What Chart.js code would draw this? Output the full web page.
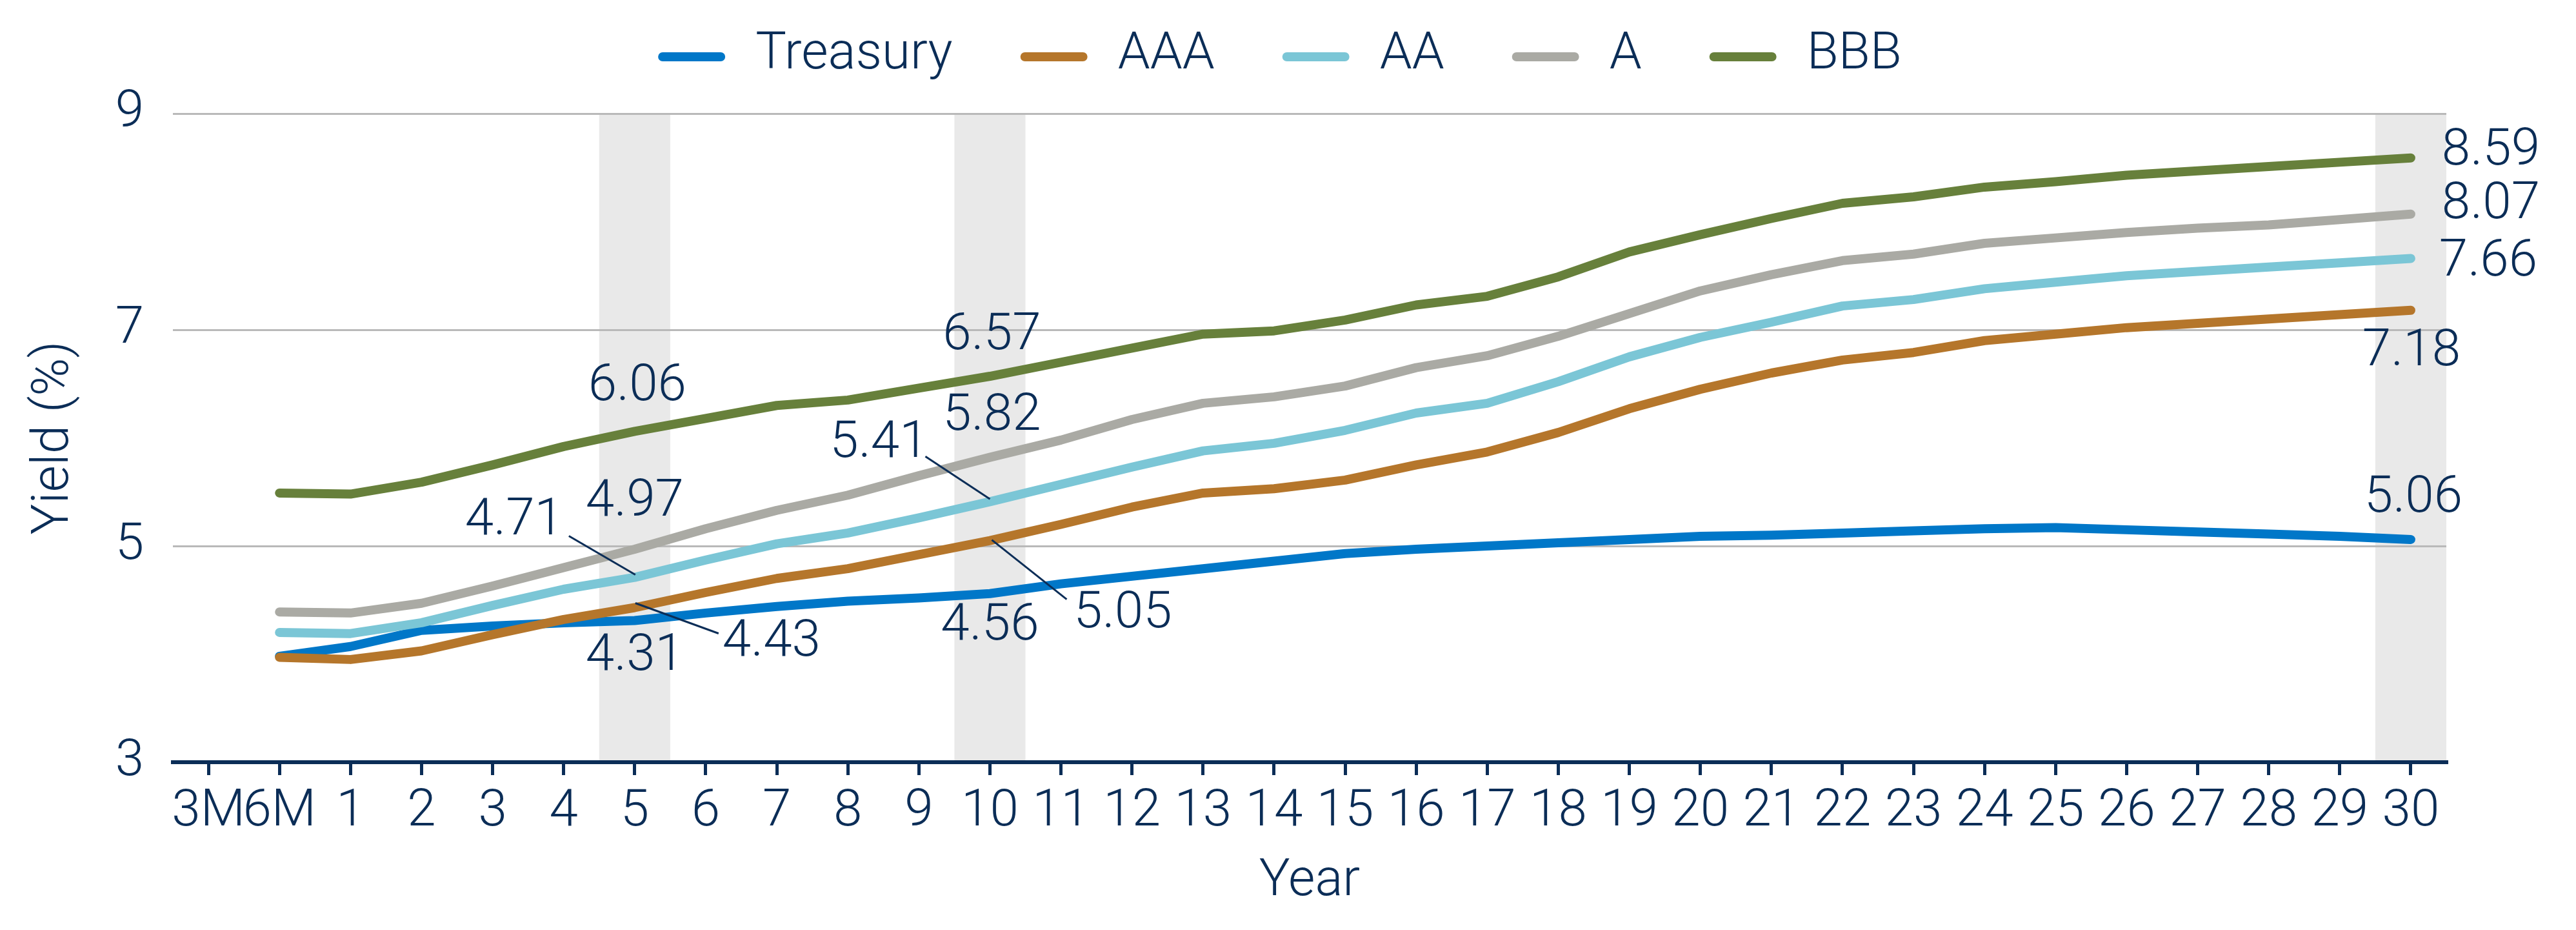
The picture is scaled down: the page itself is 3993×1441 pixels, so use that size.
<!DOCTYPE html>
<html>
<head>
<meta charset="utf-8">
<script src="https://cdn.jsdelivr.net/npm/chart.js@4.4.0/dist/chart.umd.min.js"></script>
<style>
  html, body { margin: 0; padding: 0; background: #fff; }
</style>
</head>
<body>
<canvas id="yieldChart" width="3993" height="1441"></canvas>
<script>
// yield curves by rating
const years = ['3M', '6M', '1', '2', '3', '4', '5', '6', '7', '8', '9', '10', '11', '12', '13', '14', '15',
  '16', '17', '18', '19', '20', '21', '22', '23', '24', '25', '26', '27', '28', '29', '30'];

const treasury = [null, 3.98, 4.07, 4.22, 4.26, 4.29, 4.31, 4.38, 4.44, 4.49, 4.52, 4.56, 4.65, 4.72, 4.79, 4.86,
  4.93, 4.97, 5.00, 5.03, 5.06, 5.09, 5.10, 5.12, 5.14, 5.16, 5.17, 5.15, 5.13, 5.11, 5.09, 5.06];
const aaa = [null, 3.97, 3.95, 4.03, 4.18, 4.32, 4.43, 4.57, 4.70, 4.79, 4.92, 5.05, 5.20, 5.36, 5.49, 5.53,
  5.61, 5.75, 5.87, 6.05, 6.27, 6.45, 6.60, 6.72, 6.79, 6.90, 6.96, 7.02, 7.06, 7.10, 7.14, 7.18];
const aa = [null, 4.20, 4.19, 4.29, 4.45, 4.60, 4.71, 4.87, 5.02, 5.12, 5.26, 5.41, 5.57, 5.73, 5.88, 5.95,
  6.07, 6.23, 6.32, 6.52, 6.75, 6.93, 7.07, 7.22, 7.28, 7.38, 7.44, 7.50, 7.54, 7.58, 7.62, 7.66];
const singleA = [null, 4.39, 4.38, 4.47, 4.63, 4.80, 4.97, 5.16, 5.33, 5.47, 5.65, 5.82, 5.98, 6.17, 6.32, 6.38,
  6.48, 6.65, 6.76, 6.94, 7.15, 7.36, 7.51, 7.64, 7.70, 7.80, 7.85, 7.90, 7.94, 7.97, 8.02, 8.07];
const bbb = [null, 5.49, 5.48, 5.59, 5.75, 5.92, 6.06, 6.18, 6.30, 6.35, 6.46, 6.57, 6.70, 6.83, 6.96, 6.99,
  7.09, 7.23, 7.31, 7.49, 7.72, 7.88, 8.03, 8.17, 8.23, 8.32, 8.37, 8.43, 8.47, 8.51, 8.55, 8.59];

const seriesNames = ['Treasury', 'AAA', 'AA', 'A', 'BBB'];
const seriesValues = [treasury, aaa, aa, singleA, bbb];
const yTicks = [3, 5, 7, 9];
const highlightYears = ['5', '10', '30'];

const colors = ['#0077c8', '#b5762b', '#7bc6d6', '#aaaaa4', '#67803b'];
const navy = '#0b2d57';
const fontFamily = "Roboto, 'Liberation Sans', sans-serif";

// value labels: offset of the label centre from its point, optional leader line (x1,y1,x2,y2 offsets)
const callouts = [
  { series: 'BBB', year: '5', dx: 4, dy: -68 },
  { series: 'A', year: '5', dx: 0, dy: -72 },
  { series: 'AA', year: '5', dx: -187, dy: -87, leader: [-102, -64, 1, -4] },
  { series: 'AAA', year: '5', dx: 212, dy: 55, leader: [1, -7, 130, 40] },
  { series: 'Treasury', year: '5', dx: 0, dy: 56 },
  { series: 'BBB', year: '10', dx: 3, dy: -62 },
  { series: 'A', year: '10', dx: 3, dy: -63 },
  { series: 'AA', year: '10', dx: -172, dy: -89, leader: [-100, -70, 0, -4] },
  { series: 'AAA', year: '10', dx: 206, dy: 114, leader: [3, -1, 119, 91] },
  { series: 'Treasury', year: '10', dx: 0, dy: 51 },
  { series: 'BBB', year: '30', dx: 124, dy: -10 },
  { series: 'A', year: '30', dx: 124, dy: -14 },
  { series: 'AA', year: '30', dx: 120, dy: 7 },
  { series: 'AAA', year: '30', dx: 1, dy: 65 },
  { series: 'Treasury', year: '30', dx: 4, dy: -63 }
];

Chart.defaults.font.family = fontFamily;
Chart.defaults.font.size = 80;
Chart.defaults.font.weight = 300;
Chart.defaults.color = navy;

// grey bands behind the highlighted maturities
const bandPlugin = {
  id: 'bands',
  beforeDraw(chart) {
    const { ctx, chartArea, scales } = chart;
    const x = scales.x;
    const half = (x.getPixelForValue(1) - x.getPixelForValue(0)) / 2;
    ctx.save();
    ctx.fillStyle = '#e9e9e9';
    highlightYears.forEach(function(yr) {
      const px = x.getPixelForValue(years.indexOf(yr));
      ctx.fillRect(px - half, chartArea.top, half * 2, chartArea.bottom - chartArea.top);
    });
    ctx.restore();
  }
};

// value labels + legend
const labelPlugin = {
  id: 'labels',
  afterDraw(chart) {
    const { ctx, scales } = chart;
    ctx.save();
    ctx.font = '300 80px ' + fontFamily;
    ctx.fillStyle = navy;
    ctx.strokeStyle = navy;
    ctx.lineWidth = 3;
    ctx.textAlign = 'center';
    ctx.textBaseline = 'middle';
    callouts.forEach(function(c) {
      const s = seriesNames.indexOf(c.series);
      const i = years.indexOf(c.year);
      const v = seriesValues[s][i];
      const px = scales.x.getPixelForValue(i);
      const py = scales.y.getPixelForValue(v);
      if (c.leader) {
        ctx.beginPath();
        ctx.moveTo(px + c.leader[0], py + c.leader[1]);
        ctx.lineTo(px + c.leader[2], py + c.leader[3]);
        ctx.stroke();
      }
      ctx.fillText(v.toFixed(2), px + c.dx, py + c.dy);
    });

    // legend
    const lineLen = 104, textGap = 47, itemGap = 105, legendY = 86;
    const widths = seriesNames.map(n => ctx.measureText(n).width);
    let total = 0;
    widths.forEach(function(w, k) { total += lineLen + textGap + w + (k < widths.length - 1 ? itemGap : 0); });
    let cx = 1984 - total / 2;
    ctx.textAlign = 'left';
    ctx.lineCap = 'round';
    seriesNames.forEach(function(n, k) {
      ctx.strokeStyle = colors[k];
      ctx.lineWidth = 14;
      ctx.beginPath();
      ctx.moveTo(cx + 7, legendY + 2);
      ctx.lineTo(cx + lineLen - 7, legendY + 2);
      ctx.stroke();
      ctx.fillText(n, cx + lineLen + textGap, legendY);
      cx += lineLen + textGap + widths[k] + itemGap;
    });
    ctx.restore();
  }
};

new Chart(document.getElementById('yieldChart').getContext('2d'), {
  type: 'line',
  data: {
    labels: years,
    datasets: seriesNames.map(function(name, k) {
      return {
        label: name,
        data: seriesValues[k],
        borderColor: colors[k],
        backgroundColor: colors[k],
        borderWidth: 14,
        borderCapStyle: 'round',
        borderJoinStyle: 'round',
        pointRadius: 0,
        tension: 0,
        order: seriesNames.length - k
      };
    })
  },
  options: {
    responsive: false,
    devicePixelRatio: 1,
    animation: false,
    events: [],
    layout: { padding: { top: 176, right: 201, bottom: 0, left: 0 } },
    plugins: {
      legend: { display: false },
      tooltip: { enabled: false }
    },
    scales: {
      x: {
        offset: true,
        grid: { drawOnChartArea: false, drawTicks: true, tickLength: 20, color: navy, lineWidth: 5 },
        border: { display: true, color: navy, width: 6 },
        ticks: { autoSkip: false, maxRotation: 0, minRotation: 0, padding: 10, color: navy },
        title: { display: true, text: 'Year', color: navy, padding: { top: 0, bottom: 26 } },
        afterFit: function(s) { s.height = 260; }
      },
      y: {
        min: 3,
        max: 9,
        afterBuildTicks: function(s) { s.ticks = yTicks.map(v => ({ value: v })); },
        grid: { color: '#b9b9b9', lineWidth: 3, drawTicks: false },
        border: { display: false },
        ticks: { padding: 45, color: navy },
        title: { display: true, text: 'Yield (%)', color: navy, padding: { top: 37, bottom: 0 } },
        afterFit: function(s) { s.width = 268; }
      }
    }
  },
  plugins: [bandPlugin, labelPlugin]
});
</script>
</body>
</html>
